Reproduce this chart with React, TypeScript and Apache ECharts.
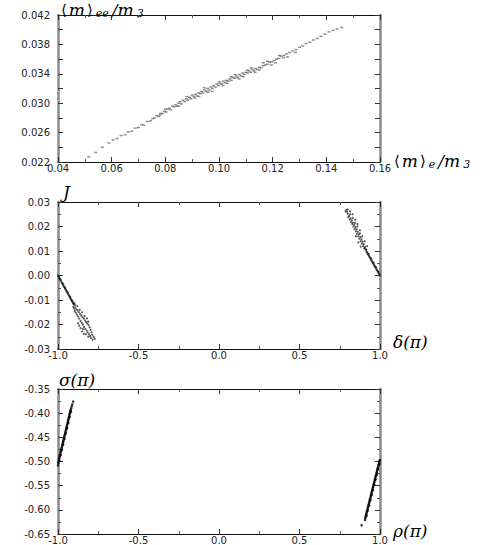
import React, { useEffect, useRef } from "react";
import * as echarts from "echarts";

// Panel 1: <m>_e/m3 vs <m>_ee/m3
const massPoints: number[][] = [
  [0.0515,0.0227],[0.0540,0.0233],[0.0565,0.0240],[0.0590,0.0246],[0.0605,0.0250],[0.0620,0.0252],[0.0635,0.0256],[0.0650,0.0257],[0.0662,0.0261],[0.0675,0.0262],[0.0688,0.0266],[0.0700,0.0267],[0.0712,0.0271],[0.0720,0.0270],[0.0733,0.0275],[0.0745,0.0276],[0.0752,0.0279],[0.0760,0.0280],[0.0768,0.0283],[0.0775,0.0282],[0.0782,0.0286],[0.0790,0.0286],[0.0796,0.0289],[0.0803,0.0288],[0.0808,0.0292],[0.0815,0.0293],[0.0820,0.0291],[0.0826,0.0296],[0.0832,0.0295],[0.0838,0.0298],[0.0843,0.0296],[0.0850,0.0300],[0.0855,0.0302],[0.0860,0.0299],[0.0866,0.0304],[0.0872,0.0302],[0.0878,0.0306],[0.0883,0.0304],[0.0890,0.0308],[0.0895,0.0306],[0.0900,0.0311],[0.0906,0.0309],[0.0912,0.0312],[0.0918,0.0310],[0.0924,0.0314],[0.0930,0.0313],[0.0935,0.0316],[0.0940,0.0314],[0.0946,0.0318],[0.0952,0.0316],[0.0958,0.0320],[0.0963,0.0318],[0.0970,0.0322],[0.0975,0.0320],[0.0980,0.0324],[0.0986,0.0322],[0.0992,0.0326],[0.0998,0.0324],[0.1004,0.0327],[0.1010,0.0326],[0.1016,0.0330],[0.1022,0.0328],[0.1028,0.0331],[0.1034,0.0330],[0.1040,0.0333],[0.1046,0.0331],[0.1052,0.0335],[0.1058,0.0334],[0.1064,0.0337],[0.1070,0.0335],[0.1076,0.0339],[0.1082,0.0337],[0.1088,0.0341],[0.1094,0.0339],[0.1100,0.0342],[0.1106,0.0341],[0.1112,0.0344],[0.1118,0.0342],[0.1124,0.0346],[0.1130,0.0344],[0.1136,0.0347],[0.1143,0.0346],[0.1150,0.0349],[0.1157,0.0348],[0.1164,0.0351],[0.1172,0.0352],[0.1180,0.0353],[0.1188,0.0356],[0.1196,0.0356],[0.1205,0.0358],[0.1214,0.0360],[0.1223,0.0361],[0.1232,0.0364],[0.1242,0.0365],[0.1252,0.0367],[0.1263,0.0369],[0.1275,0.0371],[0.1287,0.0373],[0.1300,0.0376],[0.1312,0.0378],[0.1325,0.0381],[0.1338,0.0383],[0.1352,0.0386],[0.1366,0.0388],[0.1380,0.0391],[0.1395,0.0394],[0.1410,0.0397],[0.1425,0.0399],[0.1440,0.0401],[0.1457,0.0403],
  [0.0850,0.0296],[0.0880,0.0309],[0.0910,0.0307],[0.0945,0.0321],[0.0975,0.0316],[0.1000,0.0329],[0.1030,0.0327],[0.1060,0.0339],[0.1090,0.0336],[0.1120,0.0348],[0.1150,0.0345],[0.1180,0.0357],[0.1210,0.0355],[0.1240,0.0362],[0.0800,0.0292],[0.0780,0.0284],
  [0.0925,0.0309],[0.0960,0.0315],[0.1015,0.0324],[0.1045,0.0336],[0.1075,0.0333],[0.1105,0.0345],[0.1135,0.0342],[0.1165,0.0355],[0.1195,0.0352],[0.1225,0.0365],[0.1255,0.0363],[0.1285,0.0369]
];

// Panel 2: delta(pi) vs J
const jarlskogLeft: number[][] = [
  [-1.000,0.0000],[-0.997,-0.0004],[-0.994,-0.0007],[-0.991,-0.0011],[-0.988,-0.0014],[-0.985,-0.0018],[-0.982,-0.0021],[-0.979,-0.0026],[-0.976,-0.0029],[-0.973,-0.0032],[-0.970,-0.0036],[-0.967,-0.0040],[-0.964,-0.0043],[-0.961,-0.0047],[-0.958,-0.0050],[-0.955,-0.0054],[-0.952,-0.0058],[-0.949,-0.0061],[-0.946,-0.0065],[-0.943,-0.0068],[-0.940,-0.0072],[-0.937,-0.0076],[-0.934,-0.0079],[-0.931,-0.0083],[-0.928,-0.0086],[-0.925,-0.0090],[-0.922,-0.0094],[-0.919,-0.0097],[-0.916,-0.0101],[-0.913,-0.0104],[-0.910,-0.0108],[-0.907,-0.0112],[-0.904,-0.0115],[-0.901,-0.0119],
  [-0.985,-0.0015],[-0.970,-0.0033],[-0.955,-0.0051],[-0.940,-0.0069],[-0.925,-0.0087],[-0.910,-0.0104],[-0.898,-0.0113],[-0.893,-0.0120],
  [-0.905,-0.0128],[-0.900,-0.0135],[-0.893,-0.0130],[-0.896,-0.0145],[-0.886,-0.0138],[-0.889,-0.0152],[-0.878,-0.0142],[-0.882,-0.0160],[-0.870,-0.0150],[-0.875,-0.0168],[-0.862,-0.0158],[-0.868,-0.0176],[-0.855,-0.0163],[-0.860,-0.0185],[-0.848,-0.0170],[-0.853,-0.0193],[-0.840,-0.0176],[-0.845,-0.0200],[-0.832,-0.0183],[-0.838,-0.0210],[-0.825,-0.0190],[-0.830,-0.0218],[-0.818,-0.0196],[-0.822,-0.0225],[-0.810,-0.0203],[-0.815,-0.0232],[-0.803,-0.0212],[-0.808,-0.0240],[-0.798,-0.0222],[-0.800,-0.0247],[-0.792,-0.0232],[-0.795,-0.0255],[-0.787,-0.0242],[-0.785,-0.0262],[-0.778,-0.0250],[-0.772,-0.0258],[-0.860,-0.0215],[-0.850,-0.0228],[-0.840,-0.0238],[-0.875,-0.0195],
  [-0.880,-0.0125],[-0.865,-0.0140],[-0.850,-0.0150],[-0.835,-0.0165],[-0.820,-0.0175],[-0.812,-0.0188],[-0.868,-0.0205],[-0.845,-0.0218],[-0.826,-0.0240],[-0.812,-0.0250]
];
const jarlskogRight: number[][] = [
  [1.000,0.0000],[0.997,0.0004],[0.994,0.0007],[0.991,0.0011],[0.988,0.0014],[0.985,0.0018],[0.982,0.0021],[0.979,0.0025],[0.976,0.0028],[0.973,0.0032],[0.970,0.0035],[0.967,0.0039],[0.964,0.0042],[0.961,0.0046],[0.958,0.0049],[0.955,0.0053],[0.952,0.0056],[0.949,0.0060],[0.946,0.0063],[0.943,0.0067],[0.940,0.0070],[0.937,0.0074],[0.934,0.0077],[0.931,0.0081],[0.928,0.0084],[0.925,0.0088],[0.922,0.0091],[0.919,0.0095],[0.916,0.0098],
  [0.990,0.0016],[0.975,0.0034],[0.960,0.0052],[0.945,0.0070],[0.930,0.0088],[0.915,0.0106],[0.905,0.0110],
  [0.912,0.0105],[0.908,0.0118],[0.903,0.0112],[0.899,0.0128],[0.895,0.0120],[0.892,0.0138],[0.888,0.0130],[0.885,0.0148],[0.880,0.0140],[0.878,0.0157],[0.872,0.0150],[0.870,0.0168],[0.865,0.0160],[0.862,0.0178],[0.857,0.0170],[0.855,0.0188],[0.850,0.0180],[0.848,0.0197],[0.842,0.0190],[0.840,0.0207],[0.835,0.0200],[0.832,0.0216],[0.828,0.0210],[0.825,0.0225],[0.820,0.0218],[0.817,0.0233],[0.812,0.0228],[0.808,0.0243],[0.803,0.0238],[0.800,0.0252],[0.795,0.0260],[0.792,0.0268],[0.786,0.0262],[0.860,0.0200],[0.845,0.0215],[0.875,0.0172],[0.830,0.0235],[0.815,0.0250],
  [0.920,0.0120],[0.905,0.0140],[0.890,0.0160],[0.875,0.0185],[0.860,0.0210],[0.845,0.0228],[0.830,0.0250],[0.815,0.0262],[0.800,0.0270],[0.880,0.0118],[0.865,0.0135],[0.850,0.0160]
];

// Panel 3: rho(pi) vs sigma(pi)
const phaseLeft: number[][] = [
  [-1.000,-0.508],[-0.998,-0.503],[-0.996,-0.500],[-0.994,-0.497],[-0.993,-0.494],[-0.991,-0.491],[-0.989,-0.488],[-0.987,-0.486],[-0.985,-0.483],[-0.983,-0.480],[-0.981,-0.477],[-0.979,-0.474],[-0.977,-0.472],[-0.975,-0.469],[-0.973,-0.466],[-0.971,-0.463],[-0.969,-0.460],[-0.967,-0.458],[-0.965,-0.455],[-0.963,-0.452],[-0.961,-0.449],[-0.959,-0.446],[-0.957,-0.444],[-0.955,-0.441],[-0.953,-0.438],[-0.951,-0.435],[-0.949,-0.432],[-0.947,-0.430],[-0.945,-0.427],[-0.943,-0.424],[-0.941,-0.421],[-0.939,-0.418],[-0.937,-0.415],[-0.935,-0.413],[-0.933,-0.410],[-0.931,-0.407],[-0.929,-0.404],[-0.927,-0.401],[-0.925,-0.399],[-0.923,-0.396],[-0.921,-0.393],[-0.918,-0.390],[-0.915,-0.386],[-0.911,-0.382],[-0.906,-0.376],
  [-0.992,-0.498],[-0.984,-0.487],[-0.976,-0.476],[-0.968,-0.465],[-0.960,-0.453],[-0.952,-0.442],[-0.944,-0.431],[-0.936,-0.420],[-0.928,-0.408],[-0.920,-0.397]
];
const phaseRight: number[][] = [
  [0.886,-0.632],[0.907,-0.621],[0.909,-0.617],[0.911,-0.614],[0.913,-0.612],[0.915,-0.609],[0.917,-0.606],[0.919,-0.603],[0.921,-0.601],[0.923,-0.598],[0.925,-0.595],[0.927,-0.593],[0.929,-0.590],[0.931,-0.587],[0.933,-0.585],[0.935,-0.582],[0.937,-0.579],[0.939,-0.577],[0.941,-0.574],[0.943,-0.571],[0.945,-0.569],[0.947,-0.566],[0.949,-0.563],[0.951,-0.561],[0.953,-0.558],[0.955,-0.555],[0.957,-0.553],[0.959,-0.550],[0.961,-0.547],[0.963,-0.545],[0.965,-0.542],[0.967,-0.539],[0.969,-0.537],[0.971,-0.534],[0.973,-0.531],[0.975,-0.529],[0.977,-0.526],[0.979,-0.523],[0.981,-0.521],[0.983,-0.518],[0.985,-0.515],[0.987,-0.513],[0.989,-0.510],[0.991,-0.507],[0.993,-0.505],[0.995,-0.502],[0.997,-0.499],[0.999,-0.497],
  [0.916,-0.612],[0.924,-0.601],[0.932,-0.591],[0.940,-0.580],[0.948,-0.569],[0.956,-0.559],[0.964,-0.548],[0.972,-0.537],[0.980,-0.527],[0.988,-0.516],[0.996,-0.505]
];

const LABEL_FONT = "DejaVu Sans";
const NAME_FONT = "DejaVu Serif";

const nameRich = {
  b: { fontFamily: "DejaVu Sans", fontSize: 15, color: "#222", lineHeight: 18, verticalAlign: "middle", padding: [0, 1, 0, 1] },
  m: { fontFamily: NAME_FONT, fontStyle: "italic", fontSize: 17, color: "#222", lineHeight: 18, verticalAlign: "middle", padding: [0, 1, 0, 1] },
  s: { fontFamily: NAME_FONT, fontStyle: "italic", fontSize: 11, color: "#222", lineHeight: 11, verticalAlign: "bottom", padding: [0, 2, 0, 2] },
};

function axisPair(
  gridIndex: number,
  min: number,
  max: number,
  interval: number,
  fmt: (v: number) => string,
  isX: boolean,
  minorSplit: number
) {
  const lineColor = isX ? "#111" : "#8a8a8a";
  const lineWidth = isX ? 1 : 2.5;
  const common = {
    type: "value",
    gridIndex,
    min,
    max,
    interval,
    splitLine: { show: false },
    axisLine: { show: true, onZero: false, lineStyle: { color: lineColor, width: lineWidth } },
    axisTick: { show: true, inside: true, length: 5, lineStyle: { color: "#333", width: 1 } },
    minorTick: { show: minorSplit > 0, splitNumber: minorSplit || 2, length: 3, lineStyle: { color: "#555", width: 1 } },
  };
  const main = {
    ...common,
    position: isX ? "bottom" : "left",
    axisLabel: {
      show: true,
      formatter: fmt,
      fontFamily: LABEL_FONT,
      fontSize: 10,
      color: "#222",
      margin: isX ? 1 : 8,
      showMinLabel: true,
      showMaxLabel: true,
    },
  };
  const twin = {
    ...common,
    position: isX ? "top" : "right",
    axisLabel: { show: false },
  };
  return [main, twin];
}

function nameText(text: string, x: number, y: number) {
  return {
    type: "text",
    x,
    y,
    silent: true,
    style: { text, rich: nameRich, align: "left", verticalAlign: "middle" },
  };
}

export default function App() {
  const ref = useRef<HTMLDivElement>(null);
  useEffect(() => {
    if (!ref.current) return;
    const chart = echarts.init(ref.current, null, { renderer: "svg" });

    const x1 = axisPair(0, 0.04, 0.16, 0.02, (v) => v.toFixed(2), true, 2);
    const y1 = axisPair(
      0, 0.022, 0.042, 0.002,
      (v) => (Math.round((v - 0.022) / 0.002) % 2 === 0 ? v.toFixed(3) : ""),
      false, 0
    );
    const x2 = axisPair(1, -1, 1, 0.5, (v) => v.toFixed(1), true, 2);
    const y2 = axisPair(1, -0.03, 0.03, 0.01, (v) => v.toFixed(2), false, 2);
    const x3 = axisPair(2, -1, 1, 0.5, (v) => v.toFixed(1), true, 2);
    const y3 = axisPair(2, -0.65, -0.35, 0.05, (v) => v.toFixed(2), false, 2);

    const pointStyle = { color: "#1a1a1a", opacity: 0.7 };

    chart.setOption({
      animation: false,
      backgroundColor: "#ffffff",
      grid: [
        { left: 58, width: 322, top: 15, height: 147 },
        { left: 58, width: 322, top: 202, height: 147 },
        { left: 58, width: 322, top: 389, height: 145 },
      ],
      xAxis: [...x1, ...x2, ...x3],
      yAxis: [...y1, ...y2, ...y3],
      graphic: [
        nameText("{b|⟨}{m|m}{b|⟩}{s|ee}{m|/m}{s|3}", 60, 10),
        nameText("{b|⟨}{m|m}{b|⟩}{s|e}{m|/m}{s|3}", 393, 161),
        nameText("{m|J}", 62, 192),
        nameText("{m|δ(π)}", 392, 342),
        nameText("{m|σ(π)}", 58, 380),
        nameText("{m|ρ(π)}", 392, 531),
      ],
      series: [
        { type: "scatter", xAxisIndex: 0, yAxisIndex: 0, data: massPoints, symbol: "rect", symbolSize: [3, 1.5], itemStyle: { color: "#333", opacity: 0.55 } },
        { type: "scatter", xAxisIndex: 2, yAxisIndex: 2, data: jarlskogLeft, symbolSize: 2.2, itemStyle: pointStyle },
        { type: "scatter", xAxisIndex: 2, yAxisIndex: 2, data: jarlskogRight, symbolSize: 2.2, itemStyle: pointStyle },
        { type: "scatter", xAxisIndex: 4, yAxisIndex: 4, data: phaseLeft, symbolSize: 2.6, itemStyle: { color: "#000" } },
        { type: "scatter", xAxisIndex: 4, yAxisIndex: 4, data: phaseRight, symbolSize: 2.6, itemStyle: { color: "#000" } },
      ],
    });
    return () => chart.dispose();
  }, []);
  return <div ref={ref} style={{ position: "fixed", left: 0, top: 0, width: 491, height: 545, background: "#fff" }} />;
}
